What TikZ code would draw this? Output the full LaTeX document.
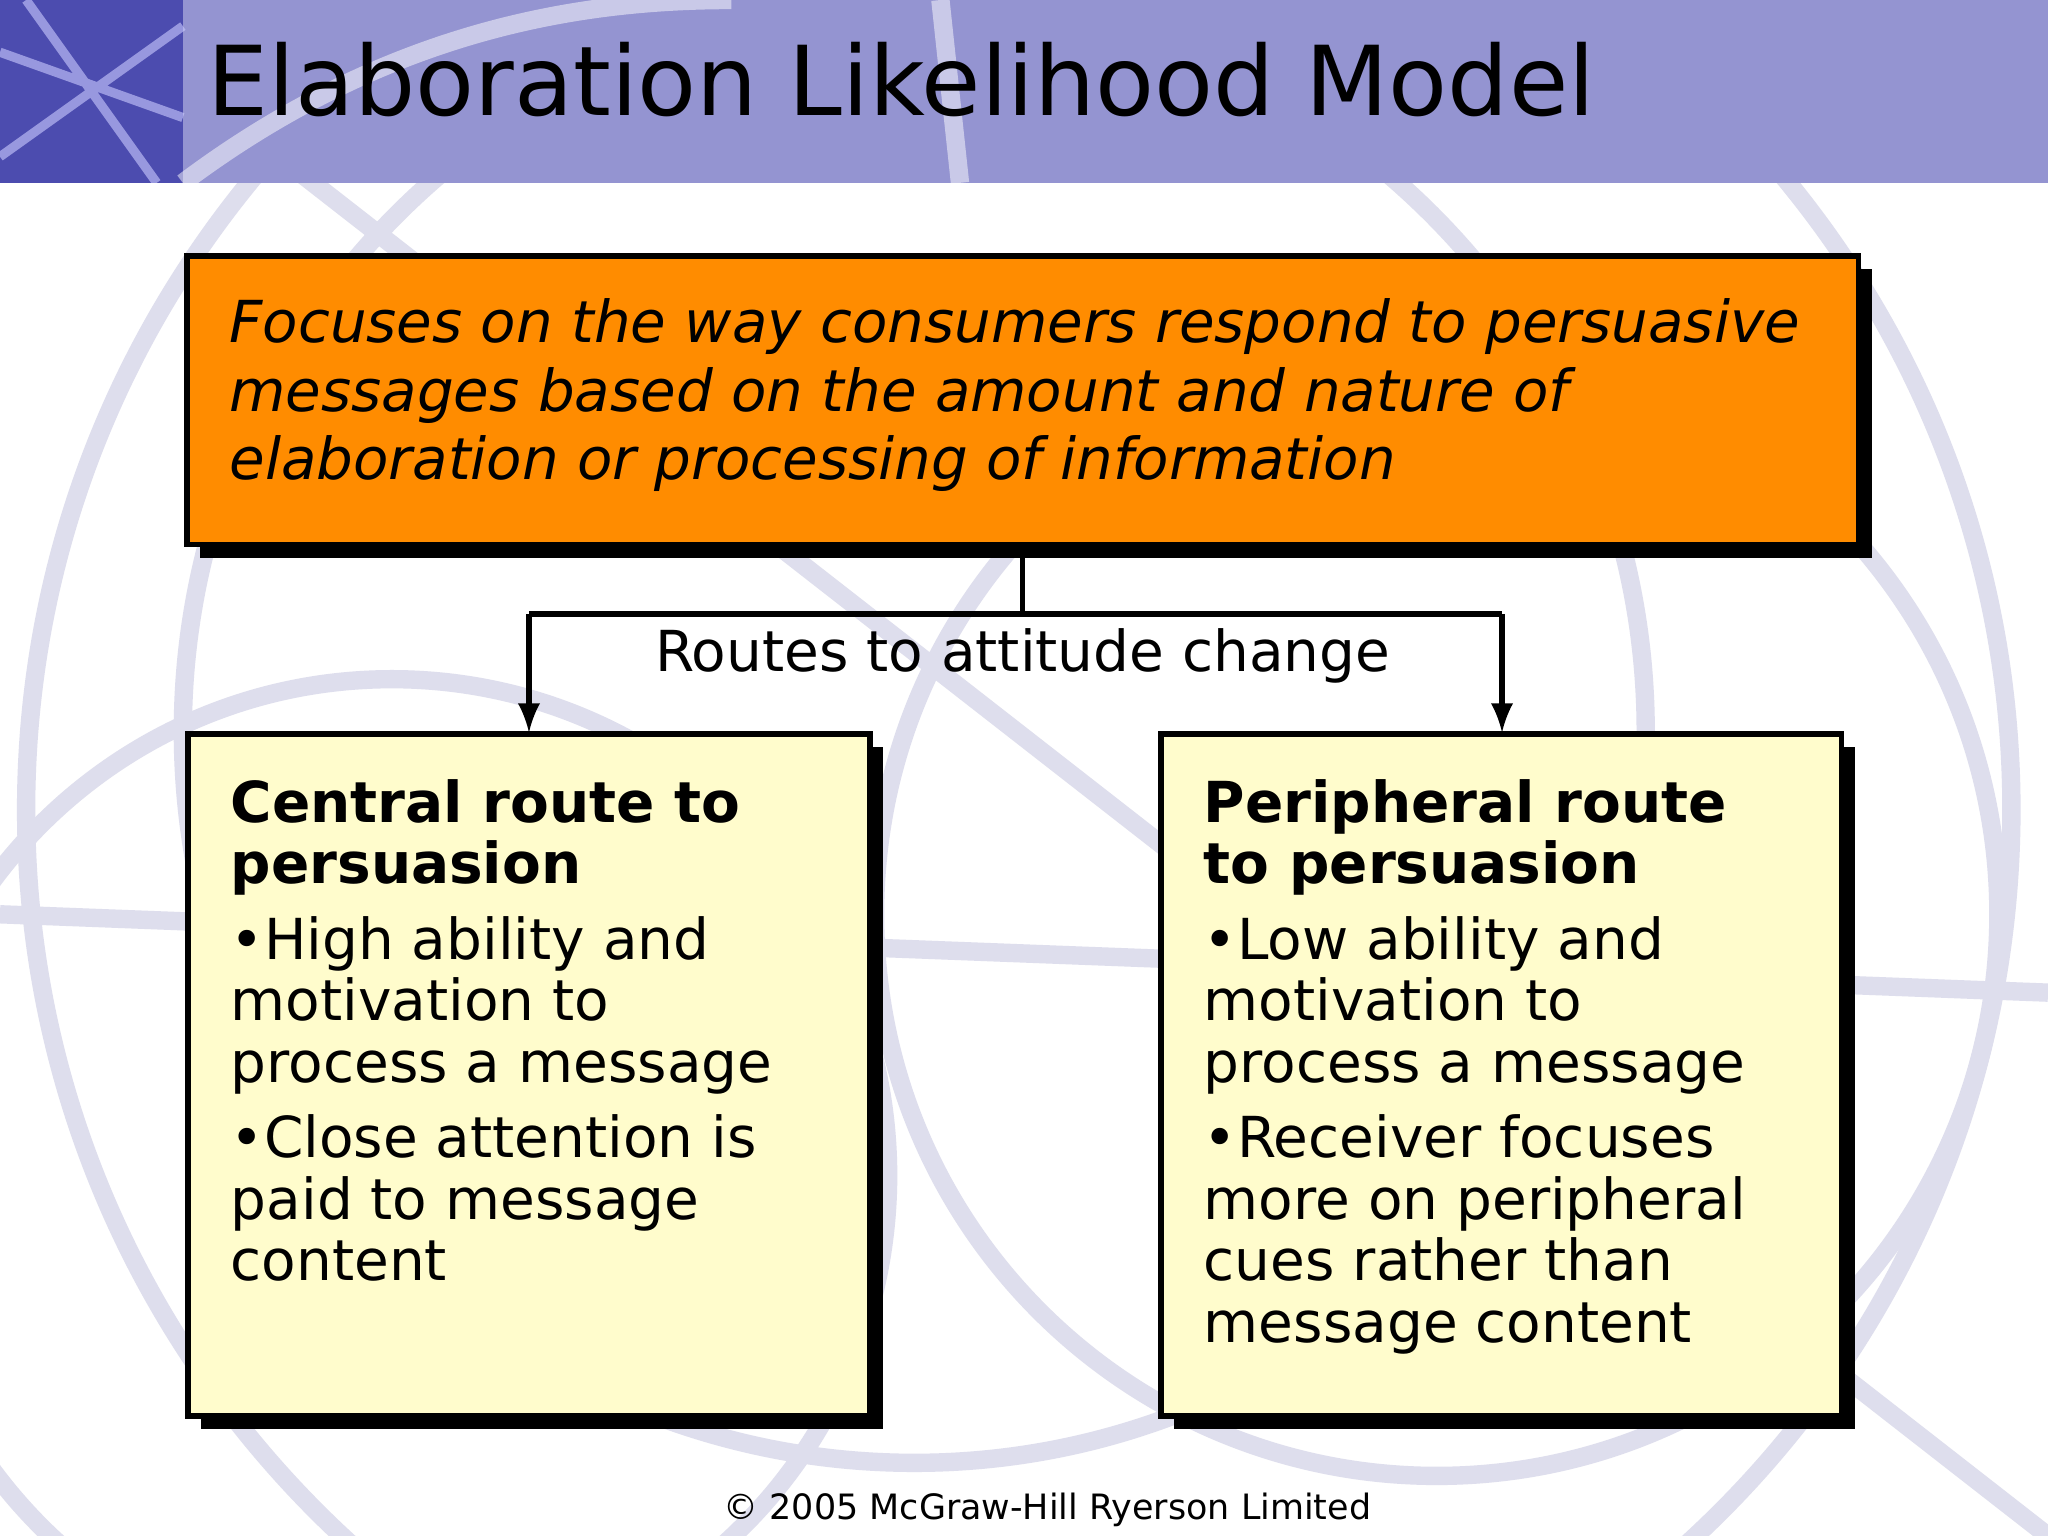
\documentclass[tikz,border=0pt]{standalone}
\usepackage{fontspec}
\setmainfont{DejaVu Sans}
\begin{document}
\begin{tikzpicture}[x=0.01cm,y=-0.01cm,
  box/.style={draw=black,line width=1.2pt,anchor=north west,inner sep=0pt},
  shadow/.style={fill=black},
  txt/.style={anchor=north west,align=left,inner sep=0pt},
  conn/.style={line width=1.2pt},
  arr/.style={conn,-latex}]
\useasboundingbox (0,0) rectangle (1568,1176);
\fill[white] (0,0) rectangle (1568,1176);
% faint background arcs
\begin{scope}[draw=blue!30!gray!20,line width=4pt]
\draw (780,620) circle (760);
\draw (700,560) circle (560);
\draw (1100,700) circle (430);
\draw (300,900) circle (380);
\draw (0,700) -- (1568,760);
\draw (60,0) -- (1568,1176);
\end{scope}
% header
\fill[blue!40!gray!60!white] (0,0) rectangle (1568,140);
\fill[blue!55!black!70!white] (0,0) rectangle (140,140);
\begin{scope}
\clip (0,0) rectangle (1568,140);
\draw[white!80!blue,line width=2pt,opacity=0.6] (0,40) -- (140,90) (20,0) -- (120,140) (0,120) -- (140,20);
\draw[white,line width=4pt,opacity=0.5] (720,0) -- (735,140) (140,140) .. controls (300,20) and (450,0) .. (560,0);
\end{scope}
\node[txt,font=\fontsize{21}{24}\selectfont] (title) at (158,32) {Elaboration Likelihood Model};
% top box
\fill[shadow] (153,206) rectangle (1433,427);
\filldraw[fill=orange!90!yellow,box,draw=black] (143,196) rectangle (1423,417);
\node[txt,font=\fontsize{12.6}{14.9}\selectfont\itshape] (top) at (175,228) {Focuses on the way consumers respond to persuasive\\messages based on the amount and nature of\\elaboration or processing of information};
\coordinate (tb) at (783,417);
\coordinate (j) at (783,470);
\coordinate (lj) at (405,470);
\coordinate (rj) at (1150,470);
% lower boxes
\fill[shadow] (154,572) rectangle (676,1094);
\filldraw[fill=yellow!20,line width=1.2pt] (144,562) rectangle (666,1084);
\fill[shadow] (899,572) rectangle (1420,1094);
\filldraw[fill=yellow!20,line width=1.2pt] (889,562) rectangle (1410,1084);
\coordinate (la) at (405,561);
\coordinate (ra) at (1150,561);
\draw[conn] (tb) -- (j);
\draw[conn] (lj) -- (rj);
\draw[arr] (lj) -- (la);
\draw[arr] (rj) -- (ra);
\node[font=\fontsize{12.3}{14}\selectfont,inner sep=0pt] (routes) at (783,502) {Routes to attitude change};
\node[txt,font=\fontsize{12.3}{13.4}\selectfont] (left) at (176,596) {\textbf{Central route to}\\\textbf{persuasion}\\[3pt]•High ability and\\motivation to\\process a message\\[3pt]•Close attention is\\paid to message\\content};
\node[txt,font=\fontsize{12.3}{13.4}\selectfont] (right) at (921,596) {\textbf{Peripheral route}\\\textbf{to persuasion}\\[3pt]•Low ability and\\motivation to\\process a message\\[3pt]•Receiver focuses\\more on peripheral\\cues rather than\\message content};
\node[font=\fontsize{7.6}{9}\selectfont,inner sep=0pt] (foot) at (802,1156) {© 2005 McGraw-Hill Ryerson Limited};
\end{tikzpicture}
\end{document}
